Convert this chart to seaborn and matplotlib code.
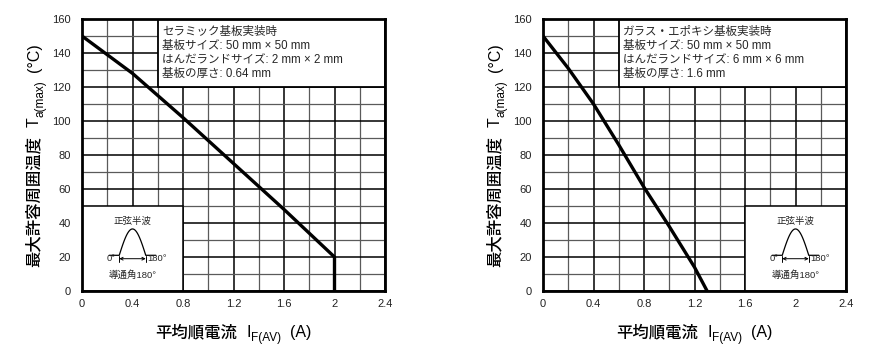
import numpy as np
import pandas as pd
import matplotlib
matplotlib.use("Agg")
import matplotlib.pyplot as plt
from matplotlib.patches import Rectangle
from matplotlib.ticker import MultipleLocator
import seaborn as sns

# Derating curves: max ambient temperature vs. average forward current
ceramic_current = [0.0, 0.4, 0.8, 1.2, 1.6, 2.0, 2.0]
ceramic_temp = [150, 128, 102, 75, 48, 20, 0]

glass_current = [0.0, 0.2, 0.4, 0.6, 0.8, 1.0, 1.2, 1.3]
glass_temp = [150, 131, 110, 86, 61, 38, 14, 0]

x_ticks = [0, 0.4, 0.8, 1.2, 1.6, 2, 2.4]
x_tick_labels = ["0", "0.4", "0.8", "1.2", "1.6", "2", "2.4"]
y_ticks = [0, 20, 40, 60, 80, 100, 120, 140, 160]

ceramic_notes = ["セラミック基板実装時",
                 "基板サイズ: 50 mm × 50 mm",
                 "はんだランドサイズ: 2 mm × 2 mm",
                 "基板の厚さ: 0.64 mm"]
glass_notes = ["ガラス・エポキシ基板実装時",
               "基板サイズ: 50 mm × 50 mm",
               "はんだランドサイズ: 6 mm × 6 mm",
               "基板の厚さ: 1.6 mm"]

sns.set_style("white")
LATIN = "Liberation Sans"
CJK = "Noto Sans CJK JP"
MIXED = [LATIN, CJK, "DejaVu Sans"]
plt.rcParams["font.family"] = MIXED

fig = plt.figure(figsize=(8.72, 3.47), dpi=100)
ax_l = fig.add_axes([82 / 872, 56 / 347, 303 / 872, 272 / 347])
ax_r = fig.add_axes([543 / 872, 56 / 347, 303 / 872, 272 / 347])
renderer = fig.canvas.get_renderer()
W, H = fig.bbox.width, fig.bbox.height


def draw_waveform(ax, cx):
    """Half-sine conduction-angle sketch centred at data x = cx."""
    half = 0.105
    base = 21.0
    peak = 36.5
    xs = np.linspace(-half, half, 60)
    ys = base + (peak - base) * np.sin((xs + half) / (2 * half) * np.pi)
    bx = np.concatenate([[cx - half - 0.08], cx + xs, [cx + half + 0.08]])
    by = np.concatenate([[base], ys, [base]])
    ax.plot(bx, by, color="black", lw=0.9, zorder=4)
    fs = 6.8
    ax.text(cx, 41, "正弦半波", ha="center", va="center", fontsize=fs,
            family=MIXED, zorder=4)
    ay = 19.0
    ax.annotate("", xy=(cx - half, ay), xytext=(cx + half, ay),
                arrowprops=dict(arrowstyle="<->", lw=0.7, color="black",
                                shrinkA=0, shrinkB=0, mutation_scale=5),
                zorder=4)
    ax.plot([cx - half, cx - half], [ay - 1.8, ay + 1.8], color="black", lw=0.7, zorder=4)
    ax.plot([cx + half, cx + half], [ay - 1.8, ay + 1.8], color="black", lw=0.7, zorder=4)
    ax.text(cx - half - 0.025, ay, "0°", ha="right", va="center", fontsize=fs,
            family=MIXED, zorder=4)
    ax.text(cx + half + 0.012, ay, "180°", ha="left", va="center", fontsize=fs,
            family=MIXED, zorder=4)
    ax.text(cx, 9.5, "導通角180°", ha="center", va="center", fontsize=fs,
            family=MIXED, zorder=4)


def text_width(s, family, size, weight):
    t = fig.text(0, 0, s, fontsize=size, family=family, fontweight=weight)
    w = t.get_window_extent(renderer).width
    t.remove()
    return w


def compound_label(pieces, center_px, base_px, vertical):
    """Lay out label pieces (text, family, size, weight, drop_px, gap_px)
    along a line centred at center_px; baseline at base_px."""
    widths = [text_width(p[0], p[1], p[2], p[3]) for p in pieces]
    total = sum(widths) + sum(p[5] for p in pieces[:-1])
    pos = center_px - total / 2
    for p, w in zip(pieces, widths):
        s, fam, size, weight, drop, gap = p
        if vertical:
            x, y = base_px + drop, pos
            fig.text(x / W, y / H, s, fontsize=size, family=fam,
                     fontweight=weight, rotation=90, rotation_mode="anchor",
                     ha="left", va="baseline", color="black")
        else:
            x, y = pos, base_px - drop
            fig.text(x / W, y / H, s, fontsize=size, family=fam,
                     fontweight=weight, ha="left", va="baseline", color="black")
        pos += w + gap


def setup(ax, cur, temp, notes, note_x, inset_x0):
    ax.set_xlim(0, 2.4)
    ax.set_ylim(0, 160)
    ax.xaxis.set_minor_locator(MultipleLocator(0.2))
    ax.yaxis.set_minor_locator(MultipleLocator(10))
    ax.set_xticks(x_ticks)
    ax.set_xticklabels(x_tick_labels)
    ax.set_yticks(y_ticks)
    ax.tick_params(which="both", length=0, labelsize=8, colors="#222222")
    ax.tick_params(axis="y", pad=8)
    ax.tick_params(axis="x", pad=6)
    ax.set_axisbelow(True)
    ax.grid(which="major", color="black", lw=1.1)
    ax.grid(which="minor", color="#5a5a5a", lw=0.9)
    for s in ax.spines.values():
        s.set_linewidth(2.0)
        s.set_color("black")

    # note box (upper right) and waveform box (lower)
    ax.add_patch(Rectangle((note_x, 120), 2.4 - note_x, 40, facecolor="white",
                           edgecolor="black", lw=1.3, zorder=1.5))
    ax.add_patch(Rectangle((inset_x0, 0), 0.8, 50, facecolor="white",
                           edgecolor="black", lw=1.1, zorder=1.5))

    df = pd.DataFrame({"I": cur, "T": temp})
    sns.lineplot(data=df, x="I", y="T", ax=ax, color="black", lw=2.4,
                 sort=False, estimator=None, zorder=3)
    ax.set_xlabel("")
    ax.set_ylabel("")

    for i, line in enumerate(notes):
        ax.text(note_x + 0.035, 152.6 - i * 8.4, line, fontsize=8.3,
                ha="left", va="center", family=MIXED, zorder=4)

    draw_waveform(ax, inset_x0 + 0.4)

    # axis labels built from pieces so the subscripts keep the same font
    bb = ax.get_position()
    cx = (bb.x0 + bb.x1) / 2 * W
    cy = (bb.y0 + bb.y1) / 2 * H
    compound_label([
        ("平均順電流", CJK, 11.8, "medium", 0, 9),
        ("I", LATIN, 11.5, "normal", 0, 0),
        ("F(AV)", LATIN, 8.5, "normal", 4, 9),
        ("(A)", LATIN, 11.5, "normal", 0, 0),
    ], cx, 347 - 337, vertical=False)
    y_base = bb.x0 * W - 43
    compound_label([
        ("最大許容周囲温度", CJK, 11.8, "medium", 0, 9),
        ("T", LATIN, 11.5, "normal", 0, 0),
        ("a(max)", LATIN, 8.5, "normal", 4, 9),
        ("(°C)", LATIN, 11.5, "normal", 0, 0),
    ], cy, y_base, vertical=True)


setup(ax_l, ceramic_current, ceramic_temp, ceramic_notes, 0.6, 0.0)
setup(ax_r, glass_current, glass_temp, glass_notes, 0.6, 1.6)

fig.savefig("out.png", dpi=100, facecolor="white")
